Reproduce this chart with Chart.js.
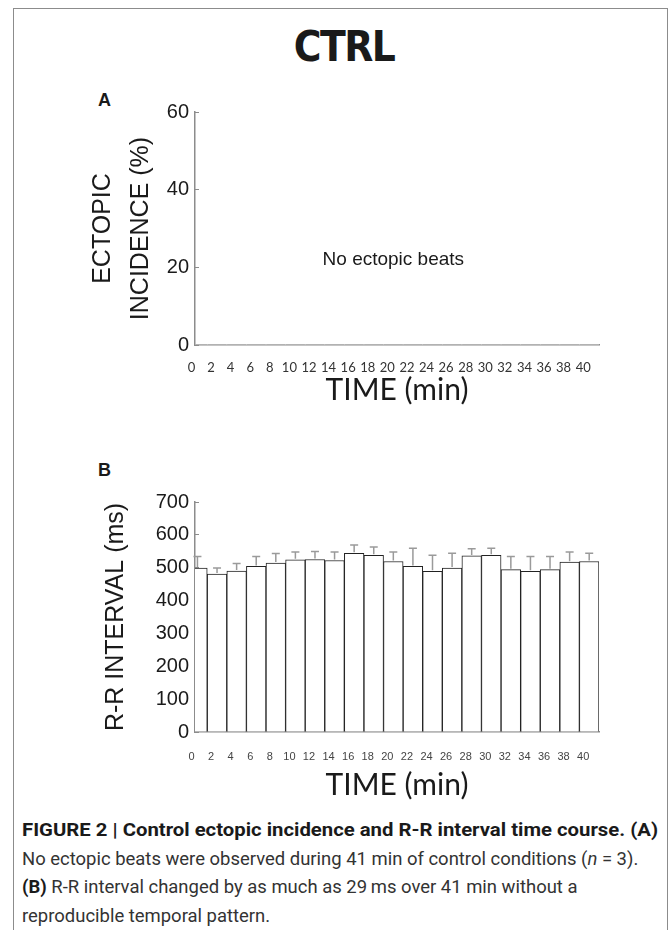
<!DOCTYPE html>
<html>
<head>
<meta charset="utf-8">
<title>CTRL</title>
<script src="https://cdn.jsdelivr.net/npm/chart.js@4.4.1/dist/chart.umd.min.js"></script>
<style>
  html, body { margin: 0; padding: 0; background: #fff; }
  body { position: relative; width: 672px; height: 930px; overflow: hidden; font-family: "Liberation Sans", Arial, sans-serif; color: #1a1a1a; }
  #frame { position: absolute; left: 13px; top: 8px; width: 655px; height: 960px; border: 1px solid #8c8c8c; box-sizing: border-box; }
  #heading { position: absolute; left: 0; top: 22px; width: 688px; text-align: center; font-family: "DejaVu Sans Condensed", "Liberation Sans Narrow", sans-serif; font-weight: bold; font-size: 42px; line-height: 50px; letter-spacing: -1.5px; }
  .letter { position: absolute; left: 98px; font-weight: bold; font-size: 18px; line-height: 20px; }
  .plot { position: absolute; left: 0; }
  .cap { position: absolute; left: 22px; font-family: Roboto, sans-serif; font-size: 18px; line-height: 28.5px; color: #333; white-space: nowrap; transform-origin: 0 0; }
  .cap b { color: #1a1a1a; }
</style>
</head>
<body>
<div id="frame"></div>
<div id="heading">CTRL</div>
<div class="letter" style="top: 90px;">A</div>
<div class="letter" style="top: 460px;">B</div>
<canvas id="ectopic" class="plot" width="672" height="330" style="top: 90px;"></canvas>
<canvas id="rr" class="plot" width="672" height="330" style="top: 480px;"></canvas>
<div id="capHead" class="cap" style="top: 816px;"><b>FIGURE 2 | Control ectopic incidence and R-R interval time course. (A)</b></div>
<div id="capBody" class="cap" style="top: 844.5px;">
  <div id="capLine2">No ectopic beats were observed during 41 min of control conditions (<i>n</i> = 3).</div>
  <div><b>(B)</b> R-R interval changed by as much as 29&#8201;ms over 41 min without a</div>
  <div>reproducible temporal pattern.</div>
</div>
<script>
// time points (min) - also used as the x tick labels
const minutes = [0, 2, 4, 6, 8, 10, 12, 14, 16, 18, 20, 22, 24, 26, 28, 30, 32, 34, 36, 38, 40];

// panel A: ectopic incidence (%), none observed
const ectopicPct = [0, 0, 0, 0, 0, 0, 0, 0, 0, 0, 0, 0, 0, 0, 0, 0, 0, 0, 0, 0, 0];
const ectopicTicks = [0, 20, 40, 60];

// panel B: R-R interval mean and error (ms)
const rrMean = [499, 481, 490, 504, 514, 524, 525, 522, 544, 538, 519, 504, 489, 499, 536, 538, 494, 489, 494, 517, 519];
const rrSem = [35, 18, 23, 30, 29, 24, 24, 26, 25, 25, 29, 55, 49, 45, 22, 21, 40, 45, 40, 31, 25];
const rrTicks = [0, 100, 200, 300, 400, 500, 600, 700];

const axisGray = "#8c8c8c";
const textDark = "#1a1a1a";
const sans = "'Liberation Sans', Arial, sans-serif";

function timeAxis(tickFont, tickColor, tickPad, height, titlePad) {
  return {
    type: "linear",
    min: -0.25,
    max: 41,
    offset: false,
    afterBuildTicks: (scale) => { scale.ticks = minutes.map((v) => ({ value: v })); },
    afterFit: (scale) => { scale.height = height; },
    grid: { display: false },
    border: { color: axisGray, width: 1.5 },
    ticks: { autoSkip: false, maxRotation: 0, font: tickFont, color: tickColor, padding: tickPad, labelOffset: -6, callback: (v) => String(v) },
    title: { display: true, text: "TIME (min)", font: { family: "Lato", size: 30, lineHeight: 1.2 }, color: textDark, padding: { top: 0, bottom: titlePad } },
  };
}

function valueAxis(max, tickValues, titleText, titleLineHeight, titlePadTop) {
  return {
    min: 0,
    max: max,
    afterBuildTicks: (scale) => { scale.ticks = tickValues.map((v) => ({ value: v })); },
    afterFit: (scale) => { scale.width = 195; },
    grid: { drawOnChartArea: false, drawTicks: true, tickLength: -4, color: axisGray, lineWidth: 1 },
    border: { color: axisGray, width: 1.5 },
    ticks: { font: { family: sans, size: 20 }, color: textDark, padding: 10 },
    title: { display: true, text: titleText, font: { family: sans, size: 25, lineHeight: titleLineHeight }, color: textDark, padding: { top: titlePadTop, bottom: 0 } },
  };
}

const noBeatsNote = {
  id: "noBeatsNote",
  afterDatasetsDraw(chart) {
    const { ctx, scales } = chart;
    ctx.save();
    ctx.font = "19px " + sans;
    ctx.fillStyle = textDark;
    ctx.textAlign = "center";
    ctx.textBaseline = "middle";
    ctx.fillText("No ectopic beats", scales.x.getPixelForValue(20), scales.y.getPixelForValue(22));
    ctx.restore();
  },
};

const errorBars = {
  id: "errorBars",
  afterDatasetsDraw(chart) {
    const { ctx, scales } = chart;
    ctx.save();
    ctx.strokeStyle = "#9a9a9a";
    ctx.lineWidth = 1.5;
    minutes.forEach((t, i) => {
      const px = scales.x.getPixelForValue(t);
      const base = scales.y.getPixelForValue(rrMean[i]) - 1;
      const top = scales.y.getPixelForValue(rrMean[i] + rrSem[i]);
      ctx.beginPath();
      ctx.moveTo(px, base);
      ctx.lineTo(px, top);
      ctx.moveTo(px - 4, top);
      ctx.lineTo(px + 4, top);
      ctx.stroke();
    });
    ctx.restore();
  },
};

new Chart(document.getElementById("ectopic"), {
  type: "bar",
  data: {
    datasets: [{
      data: minutes.map((t, i) => ({ x: t, y: ectopicPct[i] })),
      backgroundColor: "#fff",
      borderWidth: 0,
      categoryPercentage: 1,
      barPercentage: 1,
      clip: 0,
    }],
  },
  options: {
    responsive: false,
    animation: false,
    layout: { padding: { top: 18, right: 73, bottom: 0, left: 0 } },
    plugins: { legend: { display: false }, tooltip: { enabled: false } },
    scales: {
      x: timeAxis({ family: "Lato", size: 13 }, "#333", 7, 75, 12),
      y: valueAxis(60, ectopicTicks, ["ECTOPIC", "INCIDENCE (%)"], 1.52, 84),
    },
  },
  plugins: [noBeatsNote],
});

new Chart(document.getElementById("rr"), {
  type: "bar",
  data: {
    datasets: [{
      data: minutes.map((t, i) => ({ x: t, y: rrMean[i] })),
      backgroundColor: "#fff",
      borderColor: "#222",
      borderWidth: 1,
      categoryPercentage: 1,
      barPercentage: 1,
      clip: 0,
    }],
  },
  options: {
    responsive: false,
    animation: false,
    layout: { padding: { top: 20, right: 73, bottom: 0, left: 0 } },
    plugins: { legend: { display: false }, tooltip: { enabled: false } },
    scales: {
      x: timeAxis({ family: sans, size: 11 }, "#444", 10, 78, 7),
      y: valueAxis(700, rrTicks, "R-R INTERVAL (ms)", 1.2, 101),
    },
  },
  plugins: [errorBars],
});

// squeeze the caption blocks so their lines span the frame like the original
function fitWidth(block, line, target) {
  const w = line.getBoundingClientRect().width;
  block.style.transform = "scaleX(" + (target / w).toFixed(3) + ")";
}
fitWidth(document.getElementById("capHead"), document.querySelector("#capHead b"), 636);
const line2 = document.getElementById("capLine2");
line2.style.display = "inline-block";
fitWidth(document.getElementById("capBody"), line2, 616);
</script>
</body>
</html>
